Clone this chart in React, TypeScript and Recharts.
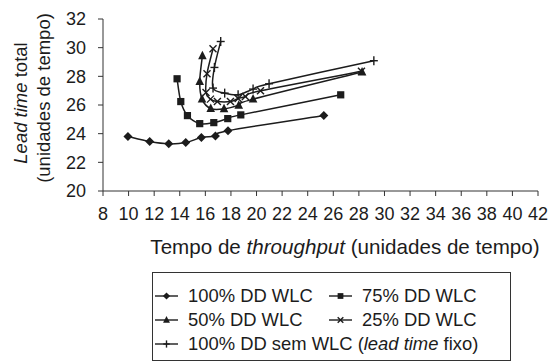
import React from "react";
import { ScatterChart, Scatter, XAxis, YAxis, Label } from "recharts";

// lead time total vs throughput, one curve per WLC share
const dd100 = [
  { x: 9.95, y: 23.8 },
  { x: 11.65, y: 23.45 },
  { x: 13.14, y: 23.29 },
  { x: 14.47, y: 23.38 },
  { x: 15.69, y: 23.73 },
  { x: 16.79, y: 23.84 },
  { x: 17.77, y: 24.21 },
  { x: 25.26, y: 25.27 },
];
const dd75 = [
  { x: 13.79, y: 27.83 },
  { x: 14.08, y: 26.24 },
  { x: 14.6, y: 25.26 },
  { x: 15.56, y: 24.7 },
  { x: 16.66, y: 24.77 },
  { x: 17.75, y: 25.05 },
  { x: 18.77, y: 25.31 },
  { x: 26.58, y: 26.71 },
];
const dd50 = [
  { x: 15.77, y: 29.44 },
  { x: 15.56, y: 27.64 },
  { x: 15.74, y: 26.41 },
  { x: 16.42, y: 25.75 },
  { x: 17.46, y: 25.73 },
  { x: 18.61, y: 25.99 },
  { x: 19.73, y: 26.41 },
  { x: 28.25, y: 28.3 },
];
const dd25 = [
  { x: 16.6, y: 29.92 },
  { x: 16.13, y: 28.18 },
  { x: 16.05, y: 26.87 },
  { x: 16.4, y: 26.41 },
  { x: 16.94, y: 26.24 },
  { x: 17.96, y: 26.24 },
  { x: 18.56, y: 26.45 },
  { x: 19.13, y: 26.59 },
  { x: 20.31, y: 26.99 },
  { x: 28.2, y: 28.35 },
];
const semWlc = [
  { x: 17.2, y: 30.43 },
  { x: 16.71, y: 28.62 },
  { x: 16.6, y: 27.18 },
  { x: 17.51, y: 26.83 },
  { x: 18.56, y: 26.71 },
  { x: 19.73, y: 27.11 },
  { x: 20.98, y: 27.48 },
  { x: 29.17, y: 29.09 },
];

const xTicks = [8, 10, 12, 14, 16, 18, 20, 22, 24, 26, 28, 30, 32, 34, 36, 38, 40, 42];
const yTicks = [20, 22, 24, 26, 28, 30, 32];

const INK = "#1c1c1c";
const FONT = "'Liberation Sans', Arial, sans-serif";

// excel-ish smoothed line (cubic bezier through the points)
const smooth = (context: any) => {
  let pts: number[][] = [];
  return {
    areaStart() {},
    areaEnd() {},
    lineStart() {
      pts = [];
    },
    point(x: number, y: number) {
      pts.push([x, y]);
    },
    lineEnd() {
      if (!pts.length) return;
      context.moveTo(pts[0][0], pts[0][1]);
      for (let i = 0; i < pts.length - 1; i++) {
        const p0 = pts[i - 1] || pts[i];
        const p1 = pts[i];
        const p2 = pts[i + 1];
        const p3 = pts[i + 2] || p2;
        context.bezierCurveTo(
          p1[0] + (p2[0] - p0[0]) / 6,
          p1[1] + (p2[1] - p0[1]) / 6,
          p2[0] - (p3[0] - p1[0]) / 6,
          p2[1] - (p3[1] - p1[1]) / 6,
          p2[0],
          p2[1]
        );
      }
    },
  };
};

type MarkKind = "diamond" | "square" | "triangle" | "x" | "plus";

function Mark({ kind, cx, cy, s = 1 }: { kind: MarkKind; cx: number; cy: number; s?: number }) {
  if (cx == null || cy == null) return null;
  switch (kind) {
    case "diamond":
      return <polygon points={`${cx},${cy - 4.5 * s} ${cx + 4.5 * s},${cy} ${cx},${cy + 4.5 * s} ${cx - 4.5 * s},${cy}`} fill={INK} />;
    case "square":
      return <rect x={cx - 3.6 * s} y={cy - 3.6 * s} width={7.2 * s} height={7.2 * s} fill={INK} />;
    case "triangle":
      return <polygon points={`${cx},${cy - 5 * s} ${cx + 4.3 * s},${cy + 3.5 * s} ${cx - 4.3 * s},${cy + 3.5 * s}`} fill={INK} />;
    case "x":
      return (
        <g stroke={INK} strokeWidth={1.4}>
          <line x1={cx - 3.5 * s} y1={cy - 3.5 * s} x2={cx + 3.5 * s} y2={cy + 3.5 * s} />
          <line x1={cx - 3.5 * s} y1={cy + 3.5 * s} x2={cx + 3.5 * s} y2={cy - 3.5 * s} />
        </g>
      );
    default:
      return (
        <g stroke={INK} strokeWidth={1.4}>
          <line x1={cx} y1={cy - 4.5 * s} x2={cx} y2={cy + 4.5 * s} />
          <line x1={cx - 4 * s} y1={cy} x2={cx + 4 * s} y2={cy} />
        </g>
      );
  }
}

const series: { name: string; data: { x: number; y: number }[]; kind: MarkKind }[] = [
  { name: "100% DD WLC", data: dd100, kind: "diamond" },
  { name: "75% DD WLC", data: dd75, kind: "square" },
  { name: "50% DD WLC", data: dd50, kind: "triangle" },
  { name: "25% DD WLC", data: dd25, kind: "x" },
  { name: "100% DD sem WLC", data: semWlc, kind: "plus" },
];

function YTitle({ viewBox }: any) {
  const cy = viewBox.y + viewBox.height / 2;
  return (
    <g fontFamily={FONT} fill={INK} fontSize={18.5}>
      <text x={20} y={cy - 2} textAnchor="middle" dominantBaseline="central" transform={`rotate(-90 20 ${cy - 2})`}>
        <tspan fontStyle="italic">Lead time</tspan> total
      </text>
      <text x={43} y={cy - 7} textAnchor="middle" dominantBaseline="central" transform={`rotate(-90 43 ${cy - 7})`}>
        (unidades de tempo)
      </text>
    </g>
  );
}

function XTitle() {
  return (
    <text x={345} y={254} textAnchor="middle" fontFamily={FONT} fill={INK} fontSize={20.6}>
      Tempo de <tspan fontStyle="italic">throughput</tspan> (unidades de tempo)
    </text>
  );
}

function LegendBox() {
  const item = (kind: MarkKind, x0: number, y: number, label: React.ReactNode) => (
    <g key={`${kind}`}>
      <line x1={x0} y1={y} x2={x0 + 23} y2={y} stroke={INK} strokeWidth={1.4} />
      <Mark kind={kind} cx={x0 + 11.5} cy={y} s={0.8} />
      <text x={x0 + 33} y={y + 6} fontFamily={FONT} fontSize={18.4} fill={INK}>
        {label}
      </text>
    </g>
  );
  return (
    <svg width={556} height={364} style={{ position: "absolute", left: 0, top: 0, pointerEvents: "none" }}>
      <rect x={152.5} y={272.5} width={358} height={88} fill="none" stroke="#333" strokeWidth={1} />
      {item("diamond", 155, 296, series[0].name)}
      {item("square", 329, 296, series[1].name)}
      {item("triangle", 155, 320, series[2].name)}
      {item("x", 329, 320, series[3].name)}
      {item("plus", 155, 344, (
        <>
          {series[4].name} (<tspan fontStyle="italic">lead time</tspan> fixo)
        </>
      ))}
    </svg>
  );
}

export default function App() {
  return (
    <div style={{ position: "absolute", left: 0, top: 0, width: 556, height: 364, background: "#fff" }}>
      <ScatterChart width={556} height={364} margin={{ top: 19, right: 18, bottom: 143, left: 0 }}>
        <XAxis
          type="number"
          dataKey="x"
          domain={[8, 42]}
          ticks={xTicks}
          interval={0}
          tickSize={5}
          tickMargin={11}
          height={30}
          stroke="#333"
          tick={{ fill: INK, fontSize: 18, fontFamily: FONT }}
        >
          <Label content={<XTitle />} />
        </XAxis>
        <YAxis
          type="number"
          dataKey="y"
          domain={[20, 32]}
          ticks={yTicks}
          interval={0}
          tickSize={5}
          tickMargin={12}
          width={103}
          stroke="#333"
          tick={{ fill: INK, fontSize: 18, fontFamily: FONT }}
        >
          <Label content={<YTitle />} />
        </YAxis>
        {series.map((s) => (
          <Scatter
            key={s.name}
            name={s.name}
            data={s.data}
            line={{ stroke: INK, strokeWidth: 1.5 }}
            lineType="joint"
            lineJointType={smooth as any}
            shape={(p: any) => <Mark kind={s.kind} cx={p.cx} cy={p.cy} />}
            isAnimationActive={false}
          />
        ))}
      </ScatterChart>
      <LegendBox />
    </div>
  );
}
